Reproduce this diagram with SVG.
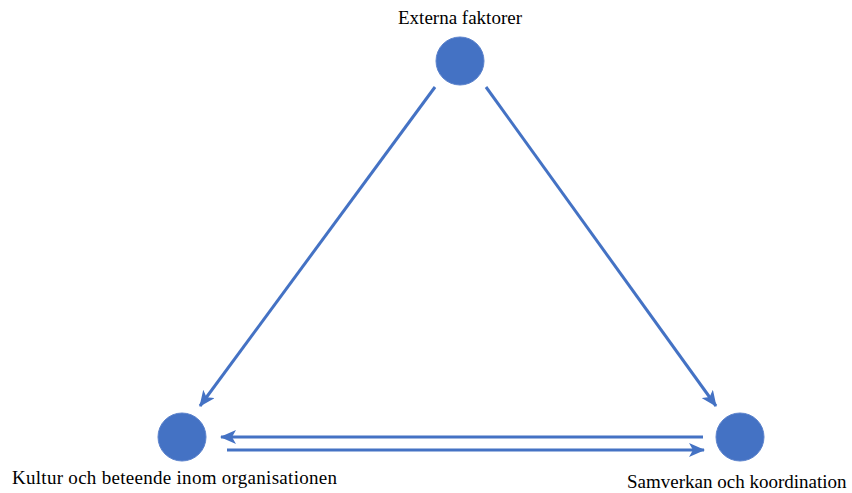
<svg xmlns="http://www.w3.org/2000/svg" width="852" height="493" viewBox="0 0 852 493">
<style>
.node{fill:#4472C4;stroke:#5B82CC;stroke-width:1}
.lbl{font-size:19px;fill:#000}
.edge{stroke:#4472C4;stroke-width:3;fill:none}
</style>
<defs>
<marker id="ah" viewBox="0 0 16 14" refX="15" refY="7" markerWidth="16" markerHeight="14" markerUnits="userSpaceOnUse" orient="auto">
<path d="M0,0 L16,7 L0,14 L4,7 Z" fill="#4472C4"/>
</marker>
</defs>
<rect width="852" height="493" fill="#fff"/>
<g id="connectors">
<line class="edge" x1="435" y1="87" x2="200" y2="406" marker-end="url(#ah)"/>
<line class="edge" x1="486" y1="87" x2="716" y2="406" marker-end="url(#ah)"/>
<line class="edge" x1="703" y1="437" x2="221" y2="437" marker-end="url(#ah)"/>
<line class="edge" x1="227" y1="450" x2="704" y2="450" marker-end="url(#ah)"/>
</g>
<g id="node-externa">
<circle class="node" cx="460" cy="61" r="24"/>
<text class="lbl" font-family="'Liberation Serif', 'DejaVu Serif', 'Times New Roman', serif" x="460" y="24" text-anchor="middle">Externa faktorer</text>
</g>
<g id="node-kultur">
<circle class="node" cx="182" cy="437" r="24"/>
<text class="lbl" font-family="'Liberation Serif', 'DejaVu Serif', 'Times New Roman', serif" x="12" y="484" font-size="19.7" textLength="325">Kultur och beteende inom organisationen</text>
</g>
<g id="node-samverkan">
<circle class="node" cx="740" cy="437" r="24"/>
<text class="lbl" font-family="'Liberation Serif', 'DejaVu Serif', 'Times New Roman', serif" x="627" y="488" font-size="19.3">Samverkan och koordination</text>
</g>
</svg>
